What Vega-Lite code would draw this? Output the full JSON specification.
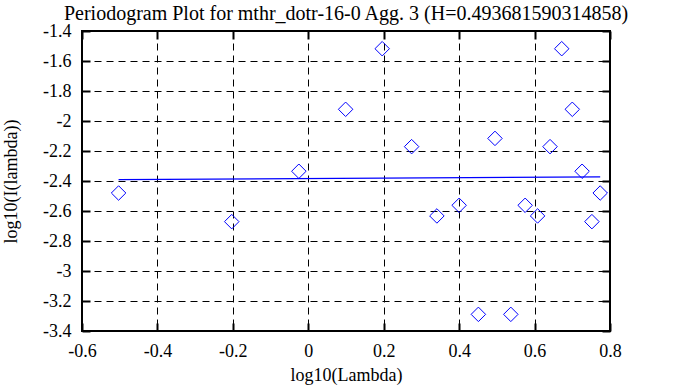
{
  "$schema": "https://vega.github.io/schema/vega-lite/v6.json",
  "autosize": {"type": "none"},
  "width": 528,
  "height": 300,
  "padding": {"left": 82, "top": 31, "right": 63, "bottom": 56},
  "background": "white",
  "config": {
    "view": {"stroke": "black", "strokeWidth": 2},
    "font": "Liberation Serif",
    "axis": {"labelFont": "Liberation Serif", "titleFont": "Liberation Serif", "labelColor": "black", "titleColor": "black", "titleFontWeight": "normal", "labelFontSize": 18, "titleFontSize": 18}
  },
  "title": {"text": "Periodogram Plot for mthr_dotr-16-0 Agg. 3 (H=0.493681590314858)", "font": "Liberation Serif", "fontSize": 20, "fontWeight": "normal", "color": "black", "anchor": "middle", "offset": -2},
  "datasets": {
    "pts": [
      {"x": -0.503, "y": -2.48},
      {"x": -0.203, "y": -2.671},
      {"x": -0.025, "y": -2.335},
      {"x": 0.099, "y": -1.922},
      {"x": 0.196, "y": -1.518},
      {"x": 0.274, "y": -2.171},
      {"x": 0.341, "y": -2.633},
      {"x": 0.400, "y": -2.562},
      {"x": 0.451, "y": -3.289},
      {"x": 0.495, "y": -2.116},
      {"x": 0.537, "y": -3.289},
      {"x": 0.575, "y": -2.562},
      {"x": 0.608, "y": -2.633},
      {"x": 0.641, "y": -2.171},
      {"x": 0.672, "y": -1.518},
      {"x": 0.700, "y": -1.922},
      {"x": 0.726, "y": -2.335},
      {"x": 0.752, "y": -2.671},
      {"x": 0.774, "y": -2.48}
    ],
    "fit": [
      {"x": -0.503, "y": -2.391},
      {"x": 0.774, "y": -2.373}
    ]
  },
  "layer": [
    {
      "data": {"name": "pts"},
      "mark": {"type": "point", "shape": "diamond", "filled": false, "color": "#0000ff", "size": 210, "strokeWidth": 1, "opacity": 1},
      "encoding": {
        "x": {"field": "x", "type": "quantitative", "scale": {"domain": [-0.6, 0.8], "nice": false, "zero": false},
          "axis": {"orient": "bottom", "values": [-0.6, -0.4, -0.2, 0, 0.2, 0.4, 0.6, 0.8], "labelExpr": "'' + datum.value", "grid": true, "gridColor": "black", "gridDash": [7, 5], "gridOpacity": 1, "gridWidth": 1, "ticks": false, "domain": false, "labelPadding": 11, "title": "log10(Lambda)", "titlePadding": 6, "labelFlush": false}},
        "y": {"field": "y", "type": "quantitative", "scale": {"domain": [-3.4, -1.4], "nice": false, "zero": false},
          "axis": {"orient": "left", "values": [-3.4, -3.2, -3, -2.8, -2.6, -2.4, -2.2, -2, -1.8, -1.6, -1.4], "labelExpr": "'' + datum.value", "grid": true, "gridColor": "black", "gridDash": [7, 5], "gridOpacity": 1, "gridWidth": 1, "ticks": false, "domain": false, "labelPadding": 11, "title": "log10(I(lambda))", "titlePadding": 22, "labelFlush": false}}
      }
    },
    {
      "data": {"name": "fit"},
      "mark": {"type": "line", "color": "#0000ff", "strokeWidth": 1.2},
      "encoding": {
        "x": {"field": "x", "type": "quantitative", "axis": {"orient": "top", "values": [-0.6, -0.4, -0.2, 0, 0.2, 0.4, 0.6, 0.8], "labels": false, "grid": false, "domain": false, "ticks": true, "tickSize": -8, "tickColor": "black", "tickWidth": 2, "title": null}},
        "y": {"field": "y", "type": "quantitative", "axis": {"orient": "right", "values": [-3.4, -3.2, -3, -2.8, -2.6, -2.4, -2.2, -2, -1.8, -1.6, -1.4], "labels": false, "grid": false, "domain": false, "ticks": true, "tickSize": -8, "tickColor": "black", "tickWidth": 2, "title": null}}
      }
    },
    {
      "data": {"name": "fit"},
      "mark": {"type": "line", "opacity": 0},
      "encoding": {
        "x": {"field": "x", "type": "quantitative", "axis": {"orient": "bottom", "values": [-0.6, -0.4, -0.2, 0, 0.2, 0.4, 0.6, 0.8], "labels": false, "grid": false, "domain": false, "ticks": true, "tickSize": -8, "tickColor": "black", "tickWidth": 2, "title": null}},
        "y": {"field": "y", "type": "quantitative", "axis": {"orient": "left", "values": [-3.4, -3.2, -3, -2.8, -2.6, -2.4, -2.2, -2, -1.8, -1.6, -1.4], "labels": false, "grid": false, "domain": false, "ticks": true, "tickSize": -8, "tickColor": "black", "tickWidth": 2, "title": null}}
      }
    }
  ],
  "resolve": {"axis": {"x": "independent", "y": "independent"}}
}
